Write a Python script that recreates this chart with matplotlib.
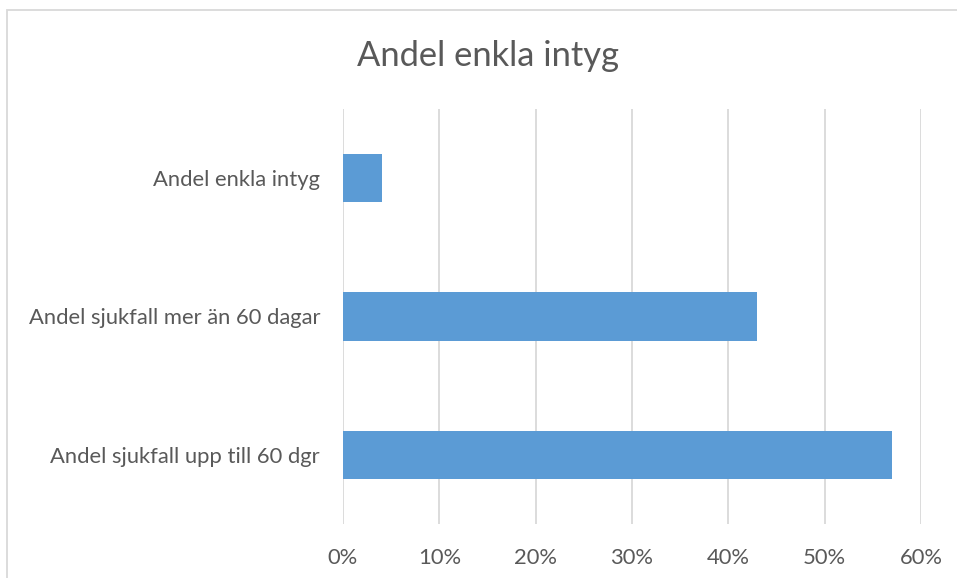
import matplotlib
matplotlib.use('Agg')
import matplotlib.pyplot as plt
from matplotlib.patches import Rectangle
from matplotlib.ticker import PercentFormatter

# data
categories = ["Andel enkla intyg", "Andel sjukfall mer än 60 dagar", "Andel sjukfall upp till 60 dgr"]
values = [0.04, 0.43, 0.57]
xticks = [0, 0.1, 0.2, 0.3, 0.4, 0.5, 0.6]

text_col = '#595959'
grid_col = '#D9D9D9'
bar_col = '#5B9BD5'

plt.rcParams['font.family'] = ['Lato', 'DejaVu Sans']

fig = plt.figure(figsize=(9.57, 5.78), dpi=100)
ax = fig.add_axes([343/957, 1 - 524/578, 578/957, 415/578])

# chart border (runs off the right and bottom edge)
fig.patches.append(Rectangle((7/957, -0.05), 1.2, 1 - 10/578 + 0.05,
                             transform=fig.transFigure, fill=False,
                             edgecolor=grid_col, linewidth=1.3))

y = range(len(categories))
ax.barh(y, values, height=0.35, color=bar_col, zorder=3)

ax.set_ylim(2.5, -0.5)
ax.set_xlim(0, 0.6)
ax.set_xticks(xticks)
ax.xaxis.set_major_formatter(PercentFormatter(1.0, decimals=0))
ax.set_yticks(list(y))
ax.set_yticklabels(categories)

ax.grid(axis='x', color=grid_col, linewidth=1.3, zorder=0)
for s in ax.spines.values():
    s.set_visible(False)
ax.tick_params(length=0, labelsize=15.8, colors=text_col)
ax.tick_params(axis='y', pad=16.5)
ax.tick_params(axis='x', pad=17)

fig.text(488/957, 1 - 56/578, "Andel enkla intyg", ha='center', va='center',
         fontsize=24.8, color=text_col)

fig.savefig('out.png', dpi=100)
